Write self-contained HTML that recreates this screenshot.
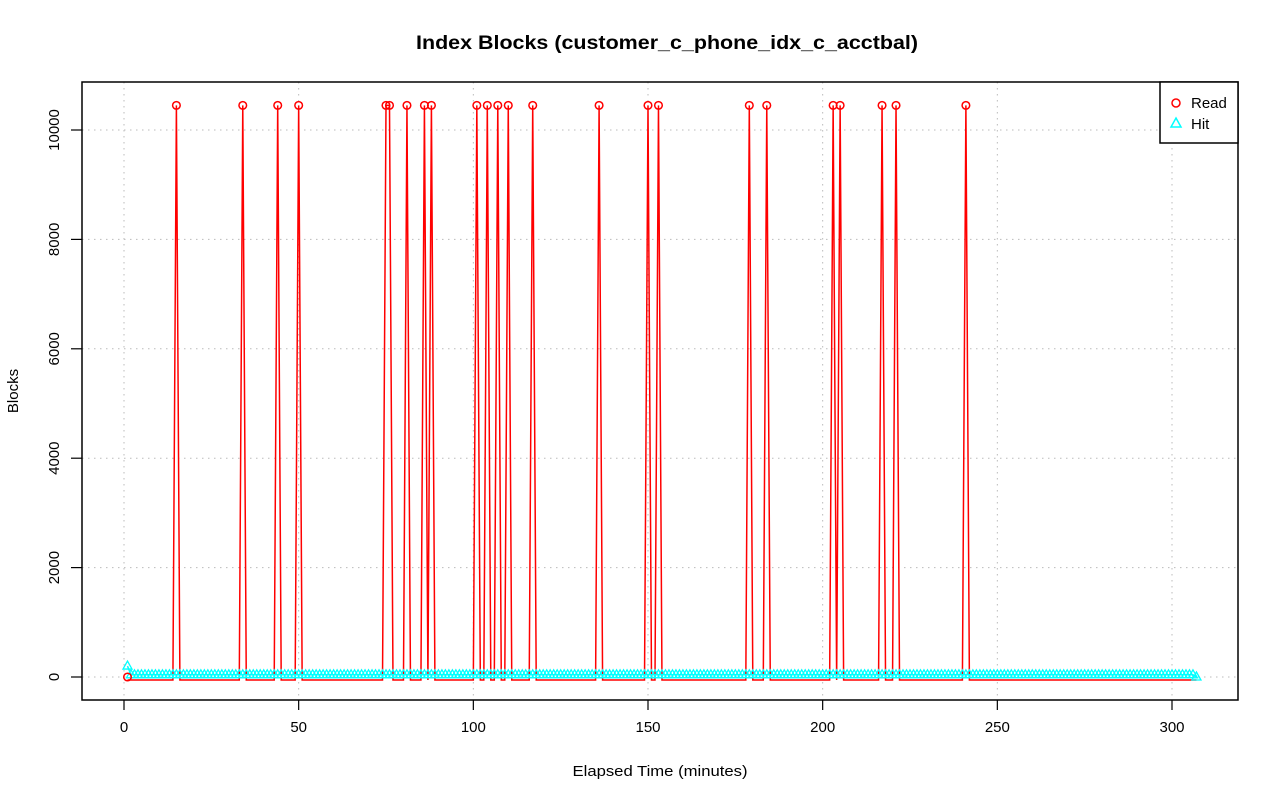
<!DOCTYPE html>
<html><head><meta charset="utf-8"><style>
body{margin:0;background:#fff;}
svg text{font-family:"Liberation Sans",sans-serif;}
</style></head><body>
<svg id="chart" width="1280" height="801">
<text x="667" y="49" text-anchor="middle" font-size="19" font-weight="bold" textLength="502" lengthAdjust="spacingAndGlyphs">Index Blocks (customer_c_phone_idx_c_acctbal)</text>
<text x="660" y="776" text-anchor="middle" font-size="15" textLength="175" lengthAdjust="spacingAndGlyphs">Elapsed Time (minutes)</text>
<text transform="translate(18,391) rotate(-90)" text-anchor="middle" font-size="15">Blocks</text>
<g id="grid"></g><g id="axes"></g><g id="series"></g>
<rect x="82" y="82" width="1156" height="618" fill="none" stroke="#000" stroke-width="1.5"/>
<g>
<rect x="1160" y="82" width="78" height="61" fill="#fff" stroke="#000" stroke-width="1.5"/>
<circle cx="1176" cy="103" r="4" fill="none" stroke="#f00" stroke-width="1.5"/>
<text x="1191" y="108" font-size="15">Read</text>
<polygon points="1176,118 1181,127 1171,127" fill="none" stroke="#0ff" stroke-width="1.5"/>
<text x="1191" y="129" font-size="15">Hit</text>
</g>
</svg>
<script>
const xTicks=[0,50,100,150,200,250,300];
const yTicks=[0,2000,4000,6000,8000,10000];
const peakMinutes=[15,34,44,50,75,76,81,86,88,101,104,107,110,117,136,150,153,179,184,203,205,217,221,241];
const peakValue=10450;
const nMinutes=307;
const hitBase=40;
const hitFirst=200;
const X=v=>124+(v)*(1172-124)/300;
const Y=v=>677-v*(677-130)/10000;
const NS="http://www.w3.org/2000/svg";
function mk(t,a,p){const e=document.createElementNS(NS,t);for(const k in a)e.setAttribute(k,a[k]);p.appendChild(e);return e;}
const grid=document.getElementById('grid'),axes=document.getElementById('axes'),ser=document.getElementById('series');
xTicks.forEach(t=>{
 const l=mk('line',{x1:X(t),x2:X(t),y1:82,y2:700,stroke:'#bbb','stroke-dasharray':'1.5,4.5'},grid);
 
 
 const k=mk('line',{x1:X(t),x2:X(t),y1:700,y2:710,stroke:'#000','stroke-width':1.2},axes);
 
 
 const tx=mk('text',{x:X(t),y:732,'text-anchor':'middle','font-size':'15'},axes);tx.textContent=t;
 
 
});
yTicks.forEach(t=>{
 const l=mk('line',{x1:82,x2:1238,y1:Y(t),y2:Y(t),stroke:'#bbb','stroke-dasharray':'1.5,4.5'},grid);
 
 
 const k=mk('line',{x1:71,x2:82,y1:Y(t),y2:Y(t),stroke:'#000','stroke-width':1.2},axes);
 
 
 const tx=mk('text',{transform:`translate(59,${Y(t)}) rotate(-90)`,'text-anchor':'middle','font-size':'15'},axes);tx.textContent=t;
 
 
});
const read=[],hit=[];
for(let m=1;m<=nMinutes;m++){read.push([m,peakMinutes.includes(m)?peakValue:0]);hit.push([m,m===1?hitFirst:(m===nMinutes?0:hitBase)]);}
const rl=mk('polyline',{points:read.map(p=>X(p[0])+','+(Y(p[1])+(p[1]?0:3))).join(' '),fill:'none',stroke:'#f00','stroke-width':1.5},ser);


const hl=mk('polyline',{points:hit.map(p=>X(p[0])+','+Y(p[1])).join(' '),fill:'none',stroke:'#0ff','stroke-width':1.5},ser);


hit.forEach(p=>{const x=X(p[0]),y=Y(p[1]);
 const t=mk('polygon',{points:`${x},${y-5} ${x+4.5},${y+3} ${x-4.5},${y+3}`,fill:'none',stroke:'#0ff','stroke-width':1.3},ser);
 
 
});
read.forEach(p=>{if(p[1]===0&&p[0]!==1)return;const c=mk('circle',{cx:X(p[0]),cy:Y(p[1]),r:3.8,fill:'none',stroke:'#f00','stroke-width':1.5},ser);
 
 
});
</script>
</body></html>
